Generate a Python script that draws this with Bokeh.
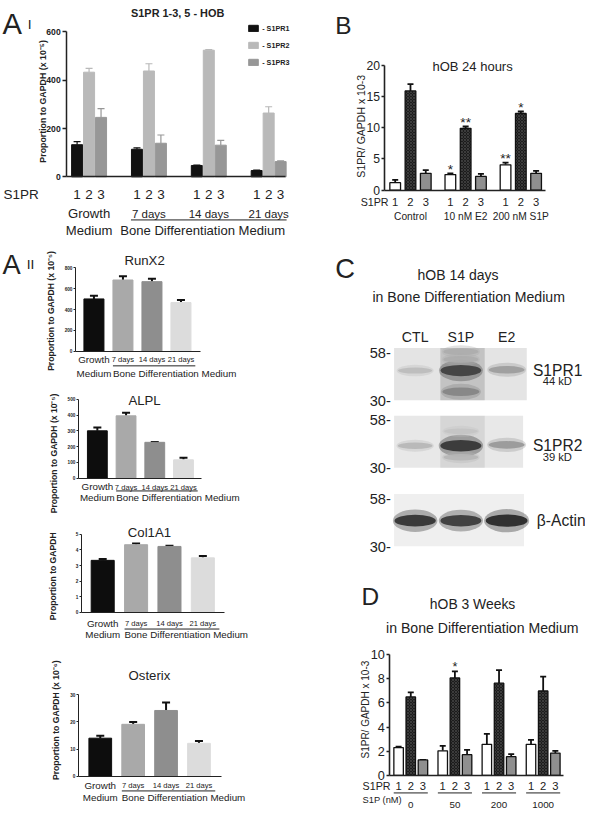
import math
from bokeh.plotting import figure
from bokeh.layouts import row, column
from bokeh.models import Range1d, FixedTicker, Whisker, TeeHead, ColumnDataSource, Legend, LegendItem
from bokeh.core.properties import value
from bokeh.embed import file_html
from bokeh.resources import INLINE

# ---------------- Panel A I ----------------
ai_title = "S1PR 1-3, 5 - HOB"
ai_receptors = ["1", "2", "3"]
ai_series = ["- S1PR1", "- S1PR2", "- S1PR3"]
ai_conditions = ["Growth Medium", "7 days", "14 days", "21 days"]
ai_medium = "Bone Differentiation Medium"
ai_s1pr1 = [133, 114, 47, 26]
ai_s1pr1_err = [13, 6, 2, 2]
ai_s1pr2 = [433, 438, 524, 264]
ai_s1pr2_err = [16, 30, 3, 26]
ai_s1pr3 = [246, 139, 131, 63]
ai_s1pr3_err = [36, 34, 20, 3]
ai_yticks = [0, 200, 400, 600]
ai_ylabel = "Proportion to GAPDH (x 10⁻⁵)"

# ---------------- Panel A II ----------------
aii_conditions = ["Growth Medium", "7 days", "14 days", "21 days"]
aii_medium = "Bone Differentiation Medium"
aii_titles = ["RunX2", "ALPL", "Col1A1", "Osterix"]
aii_ylabels = ["Proportion to GAPDH (x 10⁻⁵)", "Proportion to GAPDH (x 10⁻⁵)",
               "Proportion to GAPDH", "Proportion to GAPDH (x 10⁻⁶)"]
runx2 = [502, 684, 668, 467]
runx2_err = [31, 37, 28, 25]
runx2_ticks = [0, 200, 400, 600, 800]
alpl = [300, 395, 227, 116]
alpl_err = [21, 19, 2, 14]
alpl_ticks = [0, 100, 200, 300, 400, 500]
col1a1 = [3.33, 4.33, 4.22, 3.49]
col1a1_err = [0.08, 0.08, 0.04, 0.11]
col1a1_ticks = [0, 1, 2, 3, 4, 5]
osterix = [14.0, 19.1, 24.2, 12.1]
osterix_err = [0.9, 0.9, 2.9, 0.9]
osterix_ticks = [0, 10, 20, 30]

# ---------------- Panel B ----------------
b_title = "hOB 24 hours"
b_conditions = ["Control", "10 nM E2", "200 nM S1P"]
b_receptors = ["1", "2", "3"]
b_s1pr1 = [1.2, 2.5, 4.06]
b_s1pr1_err = [0.45, 0.2, 0.35]
b_s1pr1_sig = ["", "*", "**"]
b_s1pr2 = [15.9, 9.9, 12.3]
b_s1pr2_err = [1.1, 0.3, 0.3]
b_s1pr2_sig = ["", "**", "*"]
b_s1pr3 = [2.7, 2.2, 2.7]
b_s1pr3_err = [0.5, 0.4, 0.4]
b_s1pr3_sig = ["", "", ""]
b_yticks = [0, 5, 10, 15, 20]
b_ylabel = "S1PR/ GAPDH x 10-3"

# ---------------- Panel C (western blot) ----------------
c_title = ["hOB 14 days", "in Bone Differentiation Medium"]
c_lanes = ["CTL", "S1P", "E2"]
c_blots = ["S1PR1", "S1PR2", "β-Actin"]
c_blot_kd = ["44 kD", "39 kD", ""]
c_label_kd = [45.5, 41, 43]
c_markers = [58, 30]
c_lane_smear = [[0.0, 0.28, 0.0], [0.0, 0.15, 0.0], [0.0, 0.0, 0.0]]
c_band_blot = [0, 0, 0, 0, 0, 0, 1, 1, 1, 1, 1, 2, 2, 2]
c_band_lane = [0, 1, 1, 1, 1, 2, 0, 1, 1, 1, 2, 0, 1, 2]
c_band_kd = [45.5, 45.5, 34, 59, 53, 46, 41, 41, 35, 50, 41.5, 43, 43, 43]
c_band_level = [0.22, 0.85, 0.5, 0.3, 0.3, 0.38, 0.25, 0.9, 0.25, 0.18, 0.4, 0.92, 0.88, 0.97]

# ---------------- Panel D ----------------
d_title = ["hOB 3 Weeks", "in Bone Differentiation Medium"]
d_receptors = ["1", "2", "3"]
d_doses = ["0", "50", "200", "1000"]
d_dose_label = "S1P (nM)"
d_s1pr1 = [2.30, 2.03, 2.57, 2.57]
d_s1pr1_err = [0.08, 0.41, 0.87, 0.36]
d_s1pr2 = [6.50, 8.07, 7.64, 6.99]
d_s1pr2_err = [0.38, 0.55, 1.08, 1.19]
d_s1pr2_sig = ["", "*", "", ""]
d_s1pr3 = [1.27, 1.71, 1.54, 1.84]
d_s1pr3_err = [0.0, 0.40, 0.22, 0.19]
d_yticks = [0, 2, 4, 6, 8, 10]
d_ylabel = "S1PR/ GAPDH x 10-3"

# ---------------- helpers ----------------
SX = 585 / 601
SY = 814 / 830
FS = 0.975
FONT = "Liberation Sans"
INK = "#222222"
AI_COLORS = ["#111111", "#b9b9b9", "#979797"]
AII_COLORS = ["#0d0d0d", "#a9a9a9", "#8e8e8e", "#dcdcdc"]
BD_COLORS = ["#ffffff", "#1c1c1c", "#8f8f8f"]


def fsz(s):
    return f"{s * FS:.1f}px"


def lin(pa, va, pb, vb):
    k = (vb - va) / (pb - pa)
    return lambda q: va + k * (q - pa)


def make_fig(box, mx, my, axes=True):
    X0, X1, Y0, Y1 = box
    w = round(X1 * SX) - round(X0 * SX)
    h = round(Y1 * SY) - round(Y0 * SY)
    kw = {}
    if not axes:
        kw = dict(x_axis_location=None, y_axis_location=None)
    p = figure(width=w, height=h, x_range=Range1d(mx(X0), mx(X1)), y_range=Range1d(my(Y1), my(Y0)),
               output_backend="svg", toolbar_location=None, tools="", min_border=0, **kw)
    p.outline_line_color = None
    p.grid.visible = False
    p.background_fill_color = "white"
    p.border_fill_color = "white"
    return p


def style_axes(p, ax_x, x_end, ymax, yticks, tick_size, tick_bold, tick_len, lw=1.5, standoff=2):
    ya = p.yaxis[0]
    ya.fixed_location = ax_x
    ya.bounds = (0, ymax)
    ya.ticker = FixedTicker(ticks=yticks, minor_ticks=[])
    ya.major_tick_out = tick_len
    ya.major_tick_in = 0
    ya.minor_tick_out = 0
    ya.minor_tick_in = 0
    ya.axis_line_width = lw
    ya.major_tick_line_width = lw
    ya.axis_line_color = INK
    ya.major_tick_line_color = INK
    ya.major_label_text_font = FONT
    ya.major_label_text_font_size = fsz(tick_size)
    ya.major_label_text_font_style = "bold" if tick_bold else "normal"
    ya.major_label_text_color = INK
    ya.major_label_standoff = standoff
    xa = p.xaxis[0]
    xa.fixed_location = 0
    xa.bounds = (ax_x, x_end)
    xa.ticker = FixedTicker(ticks=[], minor_ticks=[])
    xa.major_tick_out = 0
    xa.major_tick_in = 0
    xa.minor_tick_out = 0
    xa.minor_tick_in = 0
    xa.axis_line_width = lw
    xa.axis_line_color = INK
    xa.major_label_text_font_size = "0px"


def text(p, xs, ys, texts, size, align="center", baseline="middle", bold=False, angle=0.0,
         color=INK, y_offset=0):
    p.text(x=xs, y=ys, text=texts, text_font=value(FONT), text_font_size=value(fsz(size)),
           text_font_style=value("bold" if bold else "normal"), text_align=value(align),
           text_baseline=value(baseline), angle=angle, text_color=color, y_offset=y_offset)


def errbars(p, xs, tops, errs, color, lw, cap):
    src = ColumnDataSource(dict(base=xs, lower=tops, upper=[t + e for t, e in zip(tops, errs)]))
    wk = Whisker(source=src, base="base", lower="lower", upper="upper", dimension="height",
                 line_color=color, line_width=lw,
                 upper_head=TeeHead(size=cap, line_color=color, line_width=lw), lower_head=None)
    p.add_layout(wk)


# ================= Panel A I =================
mx = lin(78.7, 0, 91.0, 1)
my = lin(180, 0, 32, 600)
p_ai = make_fig((0, 300, 0, 245), mx, my)
style_axes(p_ai, mx(68), mx(293), 600, ai_yticks, 8.8, True, 4, lw=1.5, standoff=2)
GAP_A = 5
ai_vals = [ai_s1pr1, ai_s1pr2, ai_s1pr3]
ai_errs = [ai_s1pr1_err, ai_s1pr2_err, ai_s1pr3_err]
ai_rends = []
for i, (vals, errs, col) in enumerate(zip(ai_vals, ai_errs, AI_COLORS)):
    xs = [g * GAP_A + i for g in range(len(ai_conditions))]
    r = p_ai.vbar(x=xs, top=vals, bottom=0, width=0.92, fill_color=col, line_color=col)
    errbars(p_ai, xs, vals, errs, col, 1.2, 7)
    ai_rends.append(r)
leg = Legend(items=[LegendItem(label=value(s), renderers=[r]) for s, r in zip(ai_series, ai_rends)],
             location=(254 * SX, (245 - 70) * SY), orientation="vertical",
             glyph_width=12, glyph_height=8, label_height=12, spacing=5, padding=0, margin=0,
             label_standoff=3, label_text_font=FONT, label_text_font_style="bold",
             label_text_font_size=fsz(7.4), label_text_color=INK,
             border_line_alpha=0, background_fill_alpha=0)
p_ai.add_layout(leg)
xs_all = [g * GAP_A + i for g in range(len(ai_conditions)) for i in range(3)]
lab_all = [ai_receptors[i] for g in range(len(ai_conditions)) for i in range(3)]
text(p_ai, xs_all, [my(198)] * len(xs_all), lab_all, 13.8)
text(p_ai, [mx(3)], [my(198)], ["S1PR"], 13.8, align="left")
gw, mw = ai_conditions[0].split()
text(p_ai, [1], [my(217)], [gw], 13.4)
text(p_ai, [1], [my(235)], [mw], 13.4)
text(p_ai, [g * GAP_A + 1 for g in (1, 2, 3)], [my(218)] * 3, ai_conditions[1:], 11.8)
p_ai.segment(x0=[1 * GAP_A - 0.5], y0=[my(224)], x1=[3 * GAP_A + 2.5], y1=[my(224)],
             line_color=INK, line_width=1)
text(p_ai, [1 * GAP_A - 1.4], [my(235)], [ai_medium], 13.4, align="left")
text(p_ai, [mx(182)], [my(13)], [ai_title], 11.2, bold=True)
text(p_ai, [mx(2)], [my(24)], ["A"], 30, align="left", baseline="alphabetic")
text(p_ai, [mx(28)], [my(24)], ["I"], 14, align="left", baseline="alphabetic")
text(p_ai, [mx(44)], [my(103)], [ai_ylabel], 9, bold=True, angle=math.pi / 2)

# ================= Panel A II =================
W2 = 0.69


def aii_chart(box, mx, my, vals, errs, yticks, idx, title_xy, ylabel_xy, axis_px, axis_end_px, rows):
    p = make_fig(box, mx, my)
    style_axes(p, mx(axis_px), mx(axis_end_px), yticks[-1], yticks, 4.8, True, 2, lw=1.0, standoff=1)
    xs = list(range(len(vals)))
    p.vbar(x=xs, top=vals, bottom=0, width=W2, fill_color=AII_COLORS, line_color=AII_COLORS)
    errbars(p, xs, vals, errs, "#111111", 2.0, 8)
    text(p, [mx(title_xy[0])], [my(title_xy[1])], [aii_titles[idx]], 13.5)
    text(p, [mx(ylabel_xy[0])], [my(ylabel_xy[1])], [aii_ylabels[idx]], 8.8, bold=True, angle=math.pi / 2)
    y_growth, y_days, y_line, y_medium = rows
    g0, m0 = aii_conditions[0].split()
    text(p, [xs[0]], [my(y_growth)], [g0], 10)
    text(p, [xs[0]], [my(y_medium)], [m0], 10)
    text(p, xs[1:], [my(y_days)] * (len(xs) - 1), aii_conditions[1:], 7.8)
    p.segment(x0=[xs[1] - W2 / 2], y0=[my(y_line)], x1=[xs[-1] + W2 / 2 + 0.15], y1=[my(y_line)],
              line_color=INK, line_width=1)
    text(p, [xs[1] - W2 / 2], [my(y_medium)], [aii_medium], 10, align="left")
    return p, mx, my


p_runx2, mx, my = aii_chart((0, 300, 245, 390), lin(96, 0, 125.8, 1), lin(358, 0, 273, 800),
                            runx2, runx2_err, runx2_ticks, 0, (148, 265), (52, 317), 77, 205,
                            (367, 367, 373, 381))
text(p_runx2, [mx(2)], [my(269)], ["A"], 28, align="left", baseline="alphabetic")
text(p_runx2, [mx(27)], [my(269)], ["II"], 14, align="left", baseline="alphabetic")

p_alpl, _, _ = aii_chart((0, 300, 390, 532), lin(99.5, 0, 129, 1), lin(487, 0, 407, 500),
                         alpl, alpl_err, alpl_ticks, 1, (148, 408), (55, 462), 80, 207,
                         (495, 496, 500, 507))
p_col, _, _ = aii_chart((0, 300, 532, 665), lin(105, 0, 139.3, 1), lin(624, 0, 544, 5),
                        col1a1, col1a1_err, col1a1_ticks, 2, (153, 542), (54, 587), 83, 230,
                        (635, 635, 641, 647))
p_ost, _, _ = aii_chart((0, 300, 665, 830), lin(102.5, 0, 136.3, 1), lin(791, 0, 708, 30),
                        osterix, osterix_err, osterix_ticks, 3, (153, 688), (57, 734), 80, 227,
                        (800, 800, 806, 813))


def grouped(p, vals_list, errs_list, sig_list, gap, width, star_size):
    for i, (vals, errs, col) in enumerate(zip(vals_list, errs_list, BD_COLORS)):
        xs = [g * gap + i for g in range(len(vals))]
        kw = {}
        if i == 1:
            kw = dict(hatch_pattern="diagonal_cross", hatch_color="#5c5c5c", hatch_scale=3.0,
                      hatch_weight=0.6, hatch_alpha=0.8)
        p.vbar(x=xs, top=vals, bottom=0, width=width, fill_color=col, line_color="#111111",
               line_width=1.3, **kw)
        errbars(p, xs, vals, errs, "#111111", 1.8, 6)
        sig = sig_list[i]
        if sig is not None:
            tops = [v + e for v, e in zip(vals, errs)]
            text(p, xs, tops, sig, star_size, baseline="alphabetic", y_offset=-4)


# ================= Panel B =================
mx = lin(405.5, 0, 421.2, 1)
my = lin(193, 0, 66, 20)
GAP_B = 3.61
p_b = make_fig((300, 601, 0, 230), mx, my)
style_axes(p_b, mx(395), mx(560), 20, b_yticks, 12.5, False, 3, lw=1.6, standoff=2)
grouped(p_b, [b_s1pr1, b_s1pr2, b_s1pr3], [b_s1pr1_err, b_s1pr2_err, b_s1pr3_err],
        [b_s1pr1_sig, b_s1pr2_sig, b_s1pr3_sig], GAP_B, 0.7, 14)
xs_b = [g * GAP_B + i for g in range(len(b_conditions)) for i in range(3)]
lab_b = [b_receptors[i] for g in range(len(b_conditions)) for i in range(3)]
text(p_b, xs_b, [my(205)] * len(xs_b), lab_b, 11.5)
text(p_b, [mx(370)], [my(205)], ["S1PR"], 11, align="left")
text(p_b, [g * GAP_B + 1 for g in range(len(b_conditions))], [my(220)] * len(b_conditions),
     b_conditions, 10.5)
text(p_b, [mx(485)], [my(67)], [b_title], 13.3)
text(p_b, [mx(344)], [my(25)], ["B"], 25, align="left", baseline="alphabetic")
text(p_b, [mx(370)], [my(128)], [b_ylabel], 10.8, angle=math.pi / 2)

# ================= Panel C =================
mx = lin(426, 0, 473, 1)
my = lin(557, 0, 508, 1)
p_c = make_fig((300, 601, 230, 575), mx, my, axes=False)
LOGR = math.log(58 / 30)
blot_base = [my(408), my(477), my(557)]


def yk(b, kd):
    return blot_base[b] + math.log(kd / 30) / LOGR


blot_bg = ["#e4e4e4", "#e8e8e8", "#efefef"]
p_c.quad(left=[-0.46] * 3, right=[2.44, 2.36, 2.38],
         bottom=[yk(b, 30.3) for b in range(3)], top=[yk(b, 62) for b in range(3)],
         fill_color=blot_bg, line_color=None)
sm_l, sm_r, sm_b, sm_t, sm_a = [], [], [], [], []
for b in range(len(c_blots)):
    for ln in range(len(c_lanes)):
        if c_lane_smear[b][ln] > 0:
            sm_l.append(ln - 0.45)
            sm_r.append(ln + 0.52)
            sm_b.append(yk(b, 30.3))
            sm_t.append(yk(b, 62))
            sm_a.append(c_lane_smear[b][ln])
p_c.quad(left=sm_l, right=sm_r, bottom=sm_b, top=sm_t, fill_color="#707070", fill_alpha=sm_a,
         line_color=None)
bx = list(c_band_lane)
by = [yk(b, kd) for b, kd in zip(c_band_blot, c_band_kd)]
bw = [0.7 + 0.22 * lv for lv in c_band_level]
bh = [0.09 + 0.17 * lv for lv in c_band_level]
bcol = ["#%02x%02x%02x" % ((round(232 - 200 * lv),) * 3) for lv in c_band_level]
p_c.ellipse(x=bx, y=by, width=[w * 1.08 for w in bw], height=[h * 1.9 for h in bh],
            fill_color=bcol, fill_alpha=0.35, line_color=None)
p_c.ellipse(x=bx, y=by, width=bw, height=bh, fill_color=bcol, fill_alpha=0.92, line_color=None)
mk_y, mk_t = [], []
for b in range(len(c_blots)):
    for kd in c_markers:
        mk_y.append(yk(b, kd))
        mk_t.append(f"{kd}-")
text(p_c, [mx(401)] * len(mk_y), mk_y, mk_t, 15, align="right")
name_x = [mx(547), mx(547), mx(551)]
text(p_c, name_x, [yk(b, c_label_kd[b]) for b in range(len(c_blots))], c_blots, 16, align="left")
for b in range(len(c_blots)):
    if c_blot_kd[b]:
        text(p_c, [mx(572)], [yk(b, c_label_kd[b]) - 11 / 49], [c_blot_kd[b]], 11.5)
text(p_c, list(range(len(c_lanes))), [my(343)] * len(c_lanes), c_lanes, 14.5)
text(p_c, [mx(470)], [my(280)], [c_title[0]], 14.4)
text(p_c, [mx(481)], [my(302)], [c_title[1]], 14.5)
text(p_c, [mx(344)], [my(273)], ["C"], 28, align="left", baseline="alphabetic")

# ================= Panel D =================
mx = lin(409, 0, 421.5, 1)
my = lin(790, 0, 667, 10)
GAP_D = 3.627
p_d = make_fig((300, 601, 575, 830), mx, my)
style_axes(p_d, mx(400), mx(578), 10, d_yticks, 13, False, 3, lw=1.6, standoff=2)
grouped(p_d, [d_s1pr1, d_s1pr2, d_s1pr3], [d_s1pr1_err, d_s1pr2_err, d_s1pr3_err],
        [None, d_s1pr2_sig, None], GAP_D, 0.78, 13)
xs_d = [g * GAP_D + i for g in range(len(d_doses)) for i in range(3)]
lab_d = [d_receptors[i] for g in range(len(d_doses)) for i in range(3)]
text(p_d, xs_d, [my(801)] * len(xs_d), lab_d, 11.5)
text(p_d, [mx(372)], [my(801)], ["S1PR"], 11, align="left")
text(p_d, [mx(372)], [my(815)], [d_dose_label], 9.5, align="left")
text(p_d, [g * GAP_D + 1 for g in range(len(d_doses))], [my(820)] * len(d_doses), d_doses, 10)
p_d.segment(x0=[g * GAP_D - 0.4 for g in range(len(d_doses))], y0=[my(808)] * len(d_doses),
            x1=[g * GAP_D + 2.4 for g in range(len(d_doses))], y1=[my(808)] * len(d_doses),
            line_color=INK, line_width=1)
text(p_d, [mx(485)], [my(615)], [d_title[0]], 14.3)
text(p_d, [mx(495)], [my(640)], [d_title[1]], 14.5)
text(p_d, [mx(371)], [my(608)], ["D"], 25, align="left", baseline="alphabetic")
text(p_d, [mx(375)], [my(723)], [d_ylabel], 10.3, angle=math.pi / 2)

left = column(p_ai, p_runx2, p_alpl, p_col, p_ost, spacing=0)
right = column(p_b, p_c, p_d, spacing=0)
layout = row(left, right, spacing=0)
open("out.html", "w").write(file_html(layout, INLINE))
